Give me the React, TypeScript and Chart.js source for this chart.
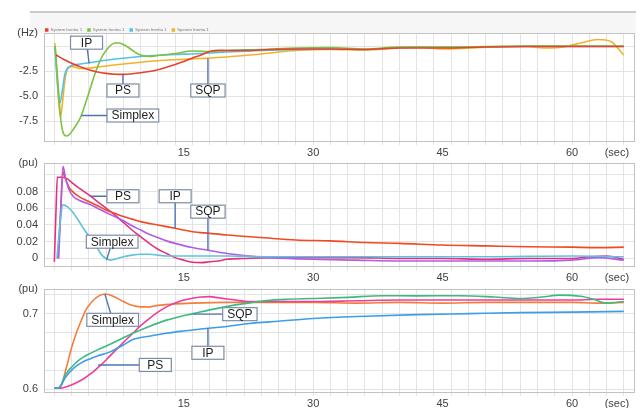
import React, { useEffect, useRef } from "react";
import { Chart, registerables } from "chart.js";
Chart.register(...registerables);

const FONT = '"Liberation Sans", Arial, sans-serif';

// ---------- shared x axis (seconds) ----------
const X_MIN = -1.2;
const X_MAX = 67.3;
const xLabelValues = [15, 30, 45, 60];
const xUnitPos = 65.2;
const xUnitText = "(sec)";
const xGridStep = 2;
const xGridLast = 66;

// ---------- panel 1 : frequency (Hz) ----------
const p1Unit = "(Hz)";
const p1YMin = -9.6;
const p1YMax = 1.3;
const p1YGrid = [-7.5, -5, -2.5, 0];
const p1YLabelVals = [-7.5, -5, -2.5];
const p1YLabelText = ["-7.5", "-5.0", "-2.5"];
const p1LegendLabel = "System Inertia 1";

const p1PS_t = [0.2, 1, 2, 3, 4, 5, 6, 7, 8, 9, 10, 11, 12, 13, 14, 15, 16, 17, 18, 19, 20, 22, 25, 28, 32, 36, 40, 45, 50, 55, 60, 63, 66];
const p1PS_v = [-0.9, -1.3, -1.72, -2.08, -2.38, -2.6, -2.74, -2.82, -2.84, -2.78, -2.68, -2.55, -2.37, -2.12, -1.85, -1.55, -1.2, -0.9, -0.55, -0.42, -0.45, -0.45, -0.35, -0.3, -0.3, -0.35, -0.2, -0.2, -0.1, -0.05, -0.05, -0.05, -0.05];

const p1Simplex_t = [0.1, 0.4, 0.7, 1.0, 1.4, 1.8, 2.3, 3, 3.5, 4, 4.5, 5, 5.5, 6, 6.5, 7, 7.5, 8, 8.5, 9, 9.5, 10, 11, 12, 13, 14, 16, 18, 20, 24, 28, 32, 36, 40, 45, 50, 55, 60, 66];
const p1Simplex_v = [0, -3.5, -7, -8.6, -9.0, -8.8, -8.2, -7.2, -6.0, -4.7, -3.3, -2.1, -1.1, -0.45, 0.05, 0.3, 0.3, 0.15, -0.1, -0.4, -0.7, -0.9, -1.05, -0.95, -0.85, -0.75, -0.5, -0.55, -0.45, -0.35, -0.2, -0.15, -0.3, -0.1, -0.1, -0.05, 0, 0, 0];

const p1IP_t = [0.05, 0.25, 0.45, 0.65, 0.9, 1.2, 1.5, 2, 3, 4, 5, 6, 8, 10, 12, 14, 17, 20, 24, 28, 32, 36, 40, 45, 50, 55, 60, 66];
const p1IP_v = [0, -2.5, -4.6, -5.7, -4.6, -2.9, -2.25, -1.95, -1.8, -1.68, -1.55, -1.42, -1.22, -1.05, -0.92, -0.85, -0.75, -0.6, -0.45, -0.35, -0.3, -0.35, -0.15, -0.12, -0.08, -0.05, -0.05, -0.05];

const p1SQP_t = [0.05, 0.25, 0.5, 0.72, 0.95, 1.2, 1.5, 2, 2.5, 3, 4, 5, 6, 8, 10, 12, 14, 17, 20, 22, 24, 26, 28, 32, 36, 40, 42, 45, 48, 51, 54, 57, 59, 61, 63, 64.5, 66];
const p1SQP_v = [0.3, -2.2, -5.6, -7.05, -5.6, -3.6, -2.35, -2.05, -2.15, -2.25, -2.2, -2.1, -2.0, -1.8, -1.62, -1.47, -1.37, -1.25, -1.1, -0.95, -0.8, -0.6, -0.45, -0.35, -0.4, -0.2, -0.1, -0.3, -0.2, -0.1, 0, -0.2, -0.1, 0.3, 0.65, 0.45, -0.9];

const p1Callouts = [
  { text: "IP", bx: 3.73, by: 0.33, ax: 4.03, ay: -1.73 },
  { text: "PS", bx: 7.95, by: -4.45, ax: 7.95, ay: -2.82 },
  { text: "SQP", bx: 17.8, by: -4.45, ax: 17.8, ay: -1.24 },
  { text: "Simplex", bx: 9.1, by: -6.95, ax: 3.15, ay: -6.95 },
];

// ---------- panel 2 : (pu) ----------
const p2Unit = "(pu)";
const p2YMin = -0.0102;
const p2YMax = 0.1145;
const p2YGrid = [0, 0.02, 0.04, 0.06, 0.08, 0.1];
const p2YLabelVals = [0, 0.02, 0.04, 0.06, 0.08];
const p2YLabelText = ["0", "0.02", "0.04", "0.06", "0.08"];

const p2IP_t = [0.4, 0.7, 1.0, 1.3, 1.7, 2.2, 3, 4, 5, 6, 7, 8, 9, 10, 12, 14, 16, 18, 20, 24, 28, 32, 36, 40, 45, 50, 55, 60, 63, 66];
const p2IP_v = [0, 0.05, 0.103, 0.095, 0.085, 0.079, 0.073, 0.068, 0.063, 0.058, 0.054, 0.05, 0.047, 0.044, 0.04, 0.036, 0.032, 0.03, 0.028, 0.025, 0.022, 0.021, 0.019, 0.018, 0.016, 0.015, 0.014, 0.0135, 0.013, 0.0135];

const p2PS_t = [0, 0.2, 0.35, 1, 1.5, 2, 3, 4, 5, 6, 7, 8, 9, 10, 11, 12, 13, 14, 15, 16, 17, 18, 19, 20, 22, 25, 30, 35, 40, 45, 50, 55, 60, 62, 64, 66];
const p2PS_v = [-0.004, 0.06, 0.097, 0.097, 0.095, 0.091, 0.083, 0.076, 0.068, 0.06, 0.052, 0.043, 0.034, 0.026, 0.018, 0.011, 0.006, 0.001, -0.002, -0.0045, -0.005, -0.004, -0.003, -0.001, 0, 0.001, 0.001, 0.001, 0, 0, -0.001, 0, 0, 0.002, 0.003, -0.001];

const p2SQP_t = [0.5, 0.75, 1.0, 1.3, 1.7, 2.2, 3, 4, 5, 6, 7, 8, 9, 10, 11, 12, 13, 14, 16, 18, 20, 22, 25, 30, 35, 40, 45, 50, 55, 60, 63, 66];
const p2SQP_v = [0, 0.06, 0.11, 0.096, 0.082, 0.074, 0.069, 0.065, 0.06, 0.055, 0.05, 0.045, 0.039, 0.034, 0.029, 0.025, 0.021, 0.018, 0.013, 0.0095, 0.006, 0.0035, 0.001, -0.001, -0.002, -0.003, -0.003, -0.003, -0.003, -0.002, 0.001, -0.002];

const p2Simplex_t = [0.3, 0.6, 1.0, 1.5, 2, 2.5, 3, 3.5, 4, 4.5, 5, 5.5, 6, 6.5, 7, 8, 9, 10, 11, 12, 13, 15, 20, 25, 30, 40, 50, 60, 66];
const p2Simplex_v = [0, 0.035, 0.064, 0.062, 0.057, 0.05, 0.042, 0.034, 0.027, 0.02, 0.012, 0.004, 0, -0.002, -0.001, 0.002, 0.004, 0.005, 0.005, 0.004, 0.003, 0.003, 0.003, 0.002, 0.002, 0.002, 0.002, 0.003, 0.002];

const p2Callouts = [
  { text: "PS", bx: 7.95, by: 0.0743, ax: 4.11, ay: 0.0743 },
  { text: "IP", bx: 14.0, by: 0.0743, ax: 14.0, ay: 0.0358 },
  { text: "SQP", bx: 17.8, by: 0.0559, ax: 17.8, ay: 0.0098 },
  { text: "Simplex", bx: 6.7, by: 0.02, ax: 6.05, ay: -0.002 },
];

// ---------- panel 3 : (pu) ----------
const p3Unit = "(pu)";
const p3YMin = 0.5948;
const p3YMax = 0.7332;
const p3YGrid = [0.6, 0.625, 0.65, 0.675, 0.7, 0.725];
const p3YLabelVals = [0.6, 0.7];
const p3YLabelText = ["0.6", "0.7"];

const p3Simplex_t = [0, 0.6, 1.4, 2, 2.6, 3.2, 3.7, 4.3, 4.9, 5.9, 7, 8, 9, 10, 11, 12, 14, 16, 20, 25, 30, 35, 40, 45, 50, 55, 60, 63, 66];
const p3Simplex_v = [0.601, 0.601, 0.629, 0.655, 0.676, 0.693, 0.706, 0.715, 0.7216, 0.726, 0.722, 0.716, 0.711, 0.709, 0.709, 0.711, 0.713, 0.714, 0.715, 0.715, 0.715, 0.714, 0.715, 0.714, 0.715, 0.715, 0.715, 0.714, 0.715];

const p3PS_t = [0, 0.6, 1.4, 2.3, 3.3, 4.3, 5.3, 6.2, 7.2, 8.2, 9.1, 10, 11, 12, 13, 14, 15, 16, 17, 18, 19, 20, 21, 22.5, 25, 30, 35, 40, 45, 50, 55, 60, 63, 66];
const p3PS_v = [0.601, 0.601, 0.603, 0.607, 0.613, 0.621, 0.631, 0.641, 0.6526, 0.664, 0.674, 0.684, 0.6935, 0.702, 0.709, 0.714, 0.718, 0.7205, 0.722, 0.7225, 0.721, 0.7195, 0.718, 0.716, 0.716, 0.716, 0.717, 0.718, 0.718, 0.718, 0.718, 0.718, 0.719, 0.719];

const p3SQP_t = [0, 0.4, 0.8, 1.2, 1.6, 2.0, 2.6, 3.3, 4.1, 5, 6.4, 8, 9.1, 11, 13, 14.5, 16.1, 18, 20.7, 22.5, 24.6, 27, 30, 34, 38, 42, 47, 51, 54, 56.5, 58.6, 61, 62.5, 64, 66];
const p3SQP_v = [0.601, 0.601, 0.606, 0.617, 0.624, 0.629, 0.636, 0.642, 0.647, 0.652, 0.659, 0.668, 0.674, 0.683, 0.6914, 0.696, 0.7, 0.705, 0.711, 0.714, 0.7173, 0.719, 0.72, 0.7216, 0.7238, 0.7235, 0.7238, 0.722, 0.72, 0.722, 0.7246, 0.723, 0.719, 0.714, 0.716];

const p3IP_t = [0, 0.4, 0.8, 1.2, 1.6, 2.0, 2.6, 3.3, 4.1, 5, 6.4, 8, 9.1, 11, 13, 15, 17.8, 20, 22.6, 26, 30, 36, 42, 48, 54, 60, 66];
const p3IP_v = [0.601, 0.601, 0.605, 0.614, 0.62, 0.625, 0.631, 0.636, 0.64, 0.644, 0.649, 0.6585, 0.6656, 0.67, 0.674, 0.677, 0.6806, 0.683, 0.687, 0.69, 0.6935, 0.6965, 0.6987, 0.7, 0.7013, 0.702, 0.703];

const p3Callouts = [
  { text: "Simplex", bx: 6.76, by: 0.6918, ax: 5.85, ay: 0.7259 },
  { text: "SQP", bx: 21.5, by: 0.6993, ax: 16.08, ay: 0.6993 },
  { text: "IP", bx: 17.8, by: 0.6481, ax: 17.8, ay: 0.6806 },
  { text: "PS", bx: 11.7, by: 0.632, ax: 5.08, ay: 0.632 },
];

type Series = { label: string; t: number[]; v: number[]; color: string };
type Callout = { text: string; bx: number; by: number; ax: number; ay: number };
type Panel = {
  top: number;
  height: number;
  padTop: number;
  xAxisH: number;
  yMin: number;
  yMax: number;
  yGrid: number[];
  yLabelVals: number[];
  yLabelText: string[];
  unit: string;
  series: Series[];
  callouts: Callout[];
  legend: boolean;
};

const panels: Panel[] = [
  {
    top: 0, height: 162, padTop: 33, xAxisH: 20,
    yMin: p1YMin, yMax: p1YMax, yGrid: p1YGrid, yLabelVals: p1YLabelVals, yLabelText: p1YLabelText, unit: p1Unit,
    series: [
      { label: p1LegendLabel, t: p1PS_t, v: p1PS_v, color: "#e8412c" },
      { label: p1LegendLabel, t: p1Simplex_t, v: p1Simplex_v, color: "#7cc142" },
      { label: p1LegendLabel, t: p1IP_t, v: p1IP_v, color: "#56bfe9" },
      { label: p1LegendLabel, t: p1SQP_t, v: p1SQP_v, color: "#f4b12a" },
    ],
    callouts: p1Callouts, legend: true,
  },
  {
    top: 150, height: 137, padTop: 11, xAxisH: 20,
    yMin: p2YMin, yMax: p2YMax, yGrid: p2YGrid, yLabelVals: p2YLabelVals, yLabelText: p2YLabelText, unit: p2Unit,
    series: [
      { label: "Simplex", t: p2Simplex_t, v: p2Simplex_v, color: "#5ec2de" },
      { label: "SQP", t: p2SQP_t, v: p2SQP_v, color: "#b35ce6" },
      { label: "IP", t: p2IP_t, v: p2IP_v, color: "#f04a24" },
      { label: "PS", t: p2PS_t, v: p2PS_v, color: "#e5307f" },
    ],
    callouts: p2Callouts, legend: false,
  },
  {
    top: 276, height: 132, padTop: 10, xAxisH: 15,
    yMin: p3YMin, yMax: p3YMax, yGrid: p3YGrid, yLabelVals: p3YLabelVals, yLabelText: p3YLabelText, unit: p3Unit,
    series: [
      { label: "IP", t: p3IP_t, v: p3IP_v, color: "#3d9de6" },
      { label: "SQP", t: p3SQP_t, v: p3SQP_v, color: "#3cba7f" },
      { label: "PS", t: p3PS_t, v: p3PS_v, color: "#ef3b9a" },
      { label: "Simplex", t: p3Simplex_t, v: p3Simplex_v, color: "#f27d3d" },
    ],
    callouts: p3Callouts, legend: false,
  },
];

const near = (a: number, b: number) => Math.abs(a - b) < 1e-9;

function xGridValues(): number[] {
  const out: number[] = [];
  for (let v = 0; v <= xGridLast + 1e-9; v += xGridStep) out.push(v);
  return out;
}

function makeDecor(p: Panel) {
  return {
    id: "decor",
    beforeDraw(chart: any) {
      if (!p.legend) return;
      const { ctx, chartArea } = chart;
      ctx.save();
      ctx.fillStyle = "#f6f6f6";
      ctx.fillRect(30, 12, 606, chartArea.top - 12);
      ctx.fillStyle = "#cbcbcb";
      ctx.fillRect(30, 11, 606, 2);
      ctx.restore();
    },
    beforeDatasetsDraw(chart: any) {
      const { ctx, chartArea: a } = chart;
      ctx.save();
      ctx.strokeStyle = "#c2c2c2";
      ctx.lineWidth = 1;
      ctx.strokeRect(Math.round(a.left) + 0.5, Math.round(a.top) + 0.5, Math.round(a.width) - 1, Math.round(a.height) - 1);
      ctx.restore();
    },
    afterDatasetsDraw(chart: any) {
      const { ctx } = chart;
      const xs = chart.scales.x;
      const ys = chart.scales.y;
      ctx.save();
      ctx.font = `12px ${FONT}`;
      p.callouts.forEach((c) => {
        const bx = xs.getPixelForValue(c.bx);
        const by = ys.getPixelForValue(c.by);
        const ax = xs.getPixelForValue(c.ax);
        const ay = ys.getPixelForValue(c.ay);
        ctx.strokeStyle = "#4f73b5";
        ctx.lineWidth = 1.4;
        ctx.beginPath();
        ctx.moveTo(bx, by);
        ctx.lineTo(ax, ay);
        ctx.stroke();
        const tw = ctx.measureText(c.text).width;
        const w = Math.max(32, tw + 9);
        const h = 13;
        ctx.fillStyle = "#ffffff";
        ctx.fillRect(bx - w / 2, by - h / 2, w, h);
        ctx.strokeStyle = "#7d8ca6";
        ctx.lineWidth = 1.2;
        ctx.strokeRect(bx - w / 2, by - h / 2, w, h);
        ctx.fillStyle = "#1e1e1e";
        ctx.textAlign = "center";
        ctx.textBaseline = "middle";
        ctx.fillText(c.text, bx, by + 0.5);
      });
      ctx.restore();
    },
    afterDraw(chart: any) {
      if (!p.legend) return;
      const { ctx, chartArea: a } = chart;
      ctx.save();
      ctx.font = `4.4px ${FONT}`;
      ctx.textBaseline = "middle";
      ctx.textAlign = "left";
      let x = a.left + 1;
      const y = a.top - 3;
      chart.data.datasets.forEach((ds: any) => {
        ctx.fillStyle = ds.borderColor;
        ctx.fillRect(x, y - 1.75, 3.5, 3.5);
        ctx.fillStyle = "#777";
        ctx.fillText(ds.label, x + 5.5, y);
        x += 5.5 + ctx.measureText(ds.label).width + 5;
      });
      ctx.restore();
    },
  };
}

function makeConfig(p: Panel): any {
  const xTicks = Array.from(new Set([...xGridValues(), ...xLabelValues, xUnitPos])).sort((a, b) => a - b);
  const gridSet = xGridValues();
  const yTicks = [...p.yGrid, p.yMax].sort((a, b) => a - b);
  return {
    type: "line",
    data: {
      datasets: p.series.map((s) => ({
        label: s.label,
        data: s.t.map((t, i) => ({ x: t, y: s.v[i] })),
        borderColor: s.color,
        backgroundColor: s.color,
        borderWidth: 1.6,
        pointRadius: 0,
        fill: false,
        cubicInterpolationMode: "monotone",
      })),
    },
    options: {
      animation: false,
      responsive: false,
      maintainAspectRatio: false,
      events: [],
      layout: { padding: { top: p.padTop, right: 7, bottom: 0, left: 0 } },
      plugins: { legend: { display: false }, tooltip: { enabled: false }, title: { display: false } },
      scales: {
        x: {
          type: "linear",
          min: X_MIN,
          max: X_MAX,
          afterBuildTicks: (scale: any) => {
            scale.ticks = xTicks.map((v) => ({ value: v }));
          },
          afterFit: (scale: any) => {
            scale.height = p.xAxisH;
          },
          border: { display: false },
          grid: {
            color: (ctx: any) =>
              ctx.tick && gridSet.some((g) => near(g, ctx.tick.value)) ? "#e3e3e3" : "rgba(0,0,0,0)",
            lineWidth: 1,
            tickLength: 3,
            drawTicks: true,
          },
          ticks: {
            autoSkip: false,
            maxRotation: 0,
            minRotation: 0,
            padding: 1,
            color: "#404040",
            font: { family: FONT, size: 11 },
            callback: (value: number) => {
              if (xLabelValues.some((l) => near(l, value))) return String(value);
              if (near(value, xUnitPos)) return xUnitText;
              return "";
            },
          },
        },
        y: {
          type: "linear",
          min: p.yMin,
          max: p.yMax,
          afterBuildTicks: (scale: any) => {
            scale.ticks = yTicks.map((v) => ({ value: v }));
          },
          afterFit: (scale: any) => {
            scale.width = 44;
          },
          border: { display: false },
          grid: {
            color: (ctx: any) =>
              ctx.tick && !near(ctx.tick.value, p.yMax) ? "#e3e3e3" : "rgba(0,0,0,0)",
            lineWidth: 1,
            drawTicks: false,
          },
          ticks: {
            autoSkip: false,
            padding: 6,
            color: "#404040",
            font: { family: FONT, size: 11 },
            callback: (value: number) => {
              const i = p.yLabelVals.findIndex((v) => near(v, value));
              if (i >= 0) return p.yLabelText[i];
              if (near(value, p.yMax)) return p.unit;
              return "";
            },
          },
        },
      },
    },
    plugins: [makeDecor(p)],
  };
}

function PanelCanvas({ p }: { p: Panel }) {
  const ref = useRef<HTMLCanvasElement | null>(null);
  useEffect(() => {
    if (!ref.current) return;
    const chart = new Chart(ref.current, makeConfig(p));
    return () => chart.destroy();
  }, [p]);
  return (
    <canvas
      ref={ref}
      width={642}
      height={p.height}
      style={{ position: "absolute", left: 0, top: p.top, width: 642, height: p.height, display: "block" }}
    />
  );
}

export default function App() {
  return (
    <div style={{ position: "fixed", left: 0, top: 0, width: 642, height: 408, background: "#ffffff", overflow: "hidden" }}>
      {panels.map((p, i) => (
        <PanelCanvas key={i} p={p} />
      ))}
    </div>
  );
}
